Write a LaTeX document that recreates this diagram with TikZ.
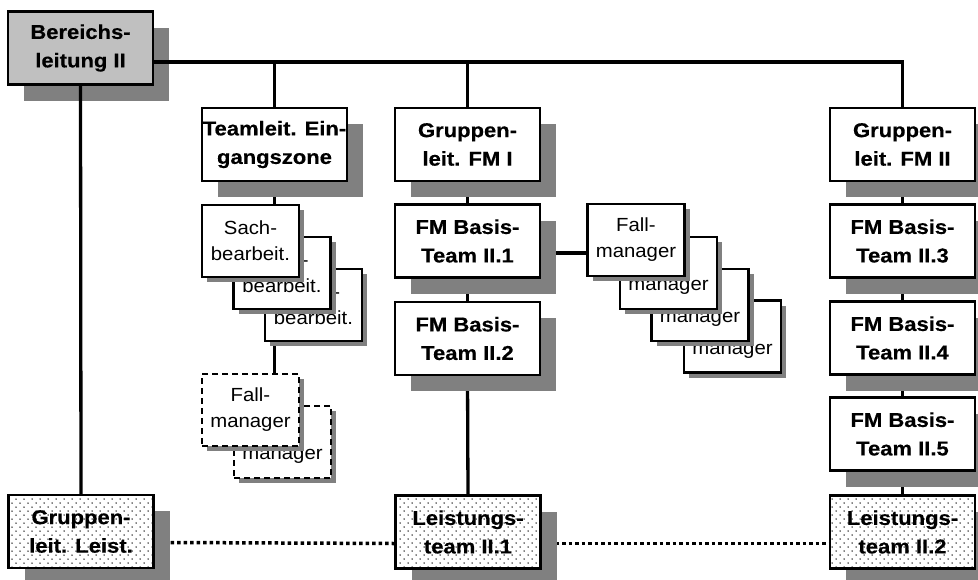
\documentclass[tikz,border=0pt]{standalone}
\usepackage{fontspec}
\setmainfont{Liberation Sans}
\newfontfamily\headfont{Liberation Sans}[FakeStretch=1.1, FakeBold=0.4]
\newfontfamily\cardfont{Liberation Sans}[FakeStretch=1.07]
\usetikzlibrary{shadows,calc,backgrounds,patterns}

\definecolor{shade}{HTML}{808080}
\definecolor{headfill}{HTML}{C0C0C0}

% fine staggered dot raster for the service teams
\pgfdeclarepatternformonly{stipple}{\pgfqpoint{-1pt}{-1pt}}{\pgfqpoint{7pt}{7pt}}{\pgfqpoint{8pt}{8pt}}{%
  \pgfpathcircle{\pgfqpoint{0pt}{0pt}}{0.75pt}%
  \pgfpathcircle{\pgfqpoint{4pt}{4pt}}{0.75pt}%
  \pgfusepath{fill}}

\tikzset{
  box/.style={draw=black, line width=2.2pt, fill=white, align=center, inner sep=0pt},
  bigbox/.style={box, minimum width=145pt, minimum height=73pt,
    font=\headfont\fontsize{20}{28.5}\selectfont\bfseries,
    drop shadow={shadow xshift=16pt, shadow yshift=-16pt, fill=shade, opacity=1}},
  headbox/.style={bigbox, fill=headfill},
  servicebox/.style={bigbox, postaction={pattern=stipple, pattern color=black}},
  smallbox/.style={box, minimum width=97pt, minimum height=72pt,
    font=\cardfont\fontsize{19}{26}\selectfont,
    drop shadow={shadow xshift=5pt, shadow yshift=-5pt, fill=shade, opacity=1}},
  plannedbox/.style={smallbox, dash pattern=on 6pt off 4pt},
  link/.style={line width=3.3pt},
  dotlink/.style={line width=3.5pt, dash pattern=on 3.5pt off 3pt},
}

\begin{document}
\begin{tikzpicture}[x=1pt, y=-1pt]
\useasboundingbox (0,0) rectangle (978,579);

% head of division
\node[headbox] (bl) at (80.5,48) {Bereichs-\\leitung II};

% intake zone column
\node[bigbox] (tl) at (274.5,144.5) {Teamleit. Ein-\\gangszone};
\node[smallbox] (sb3) at (313.5,305) {Sach-\\bearbeit.};
\node[smallbox] (sb2) at (282,273) {Sach-\\bearbeit.};
\node[smallbox] (sb1) at (250.5,241) {Sach-\\bearbeit.};
\node[plannedbox] (fd2) at (282.5,442) {Fall-\\manager};
\node[plannedbox] (fd1) at (250.5,410) {Fall-\\manager};

% case management group I
\node[bigbox] (g1) at (467.5,144.5) {Gruppen-\\leit. FM I};
\node[bigbox] (b1) at (467.5,241) {FM Basis-\\Team II.1};
\node[bigbox] (b2) at (467.5,338.5) {FM Basis-\\Team II.2};
\node[smallbox] (f4) at (732.5,336.5) {Fall-\\manager};
\node[smallbox] (f3) at (700,305) {Fall-\\manager};
\node[smallbox] (f2) at (668.5,273) {Fall-\\manager};
\node[smallbox] (f1) at (636,240) {Fall-\\manager};

% case management group II
\node[bigbox] (g2) at (902.5,144.5) {Gruppen-\\leit. FM II};
\node[bigbox] (b3) at (902.5,241) {FM Basis-\\Team II.3};
\node[bigbox] (b4) at (902.5,338) {FM Basis-\\Team II.4};
\node[bigbox] (b5) at (902.5,434) {FM Basis-\\Team II.5};

% service teams
\node[servicebox] (gl) at (81,531.5) {Gruppen-\\leit. Leist.};
\node[servicebox] (lt1) at (468,532) {Leistungs-\\team II.1};
\node[servicebox] (lt2) at (902.5,532) {Leistungs-\\team II.2};

% connectors running below the shadows
\begin{pgfonlayer}{background}
  \draw[link] (tl.south) -- (tl.south |- sb1.north);
  \draw[link] (tl.south |- sb3.south) -- (tl.south |- fd1.north);
  \draw[link] (g1.south) -- (b1.north);
  \draw[link] (b1.south) -- (b2.north);
  \draw[link] (b2.south) -- (lt1.north);
  \draw[link] ($(b1.east)+(0,12)$) coordinate (fmj) -- (fmj -| f1.west);
  \draw[link] (g2.south) -- (b3.north);
  \draw[link] (b3.south) -- (b4.north);
  \draw[link] (b4.south) -- (b5.north);
  \draw[link] (b5.south) -- (lt2.north);
  \draw[dotlink] ($(gl.east)+(16,11)$) -- ($(lt1.west)+(0,11.5)$);
  \draw[dotlink] ($(lt1.east)+(14,11.5)$) -- ($(lt2.west)+(0,11.5)$);
\end{pgfonlayer}

% lines from the head of division
\draw[link] ($(bl.east)+(0,14)$) coordinate (top) -| (g2.north);
\draw[link] (top -| tl.north) -- (tl.north);
\draw[link] (top -| g1.north) -- (g1.north);
\draw[link] (bl.south) -- (gl.north);
\end{tikzpicture}
\end{document}
